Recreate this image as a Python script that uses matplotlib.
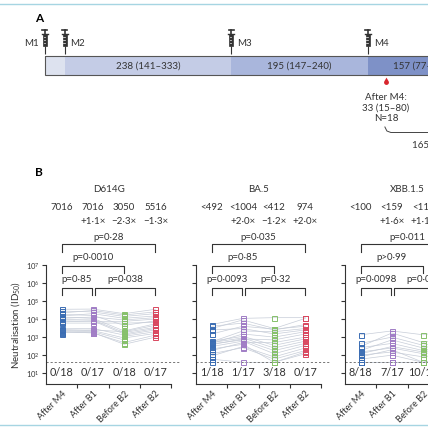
import numpy as np
import matplotlib
matplotlib.use('Agg')
import matplotlib.pyplot as plt
from matplotlib.patches import Rectangle
from matplotlib.path import Path
from matplotlib.lines import Line2D
from matplotlib.ticker import NullLocator

plt.rcParams['font.family'] = ['Lato', 'DejaVu Sans']
plt.rcParams['mathtext.fontset'] = 'custom'
plt.rcParams['mathtext.rm'] = 'Lato'
plt.rcParams['mathtext.it'] = 'Lato:italic'

# ---- panel A: vaccination timeline (days) ----
dose_names = ['M1', 'M2', 'M3', 'M4']
dose_days = [0, 28, 266, 461]
interval_days = [28, 238, 195, 157]
interval_labels = ['', '238 (141–333)', '195 (147–240)', '157 (77–237)']
bleed_day = 487
bleed_label = 'After M4:\n33 (15–80)\nN=18'
later_label = '165–228 days'

# ---- panel B: neutralisation titres (ID50), one entry per participant ----
timepoints = ['After M4', 'After B1', 'Before B2', 'After B2']
variants = ['D614G', 'BA.5', 'XBB.1.5']
lod = 40
nan = np.nan

d614g_titres = [
    [35000, 28000, 22000, 18000, 15000, 13000, 11000, 9500, 8000, 7000, 6000, 2900, 2600, 2400, 2200, 2000, 1800, 1500],
    [36000, 25000, 30000, 16000, 20000, 11000, 13000, 9000, 7500, 8000, 6000, 3000, 2300, 2500, 2000, 1700, 1800, nan],
    [20000, 14000, 17000, 4500, 11000, 2200, 9000, 1800, 7500, 1500, 6000, 1300, 900, 2000, 700, 500, 400, 1100],
    [35000, 20000, 25000, 8000, 15000, 5500, 12000, 3500, 10000, 3000, 6500, 2500, 1600, 4500, nan, 1300, 1000, 2000],
]
ba5_titres = [
    [5000, 4000, 3000, 2500, 1500, 600, 550, 500, 450, 420, 380, 300, 220, 180, 120, 90, 60, 40],
    [11000, 6000, 9000, 3000, 4000, 1100, 2200, 900, 1500, 700, 800, 600, 400, 500, 260, 300, 40, nan],
    [12000, 2500, 3000, 1500, 2800, 350, 2000, 250, 1000, 180, 700, 120, 40, 500, 60, 80, 40, 40],
    [12000, 5000, 11000, 2500, 4000, 800, 3000, 600, 2000, 450, 1500, 350, 150, 1000, 180, 250, 120, nan],
]
xbb_titres = [
    [1350, 450, 300, 260, 180, 150, 120, 100, 80, 60, 40, 40, 40, 40, 40, 40, 40, 40],
    [2200, 1000, 1700, 450, 700, 250, 300, 150, 200, 100, 40, 40, 40, 40, 40, 40, 40, nan],
    [1350, 350, 500, 180, 250, 120, 150, 80, 40, 40, 40, 40, 40, 40, 40, 40, 40, 40],
    [2500, 800, 1200, 400, 600, 200, 300, 150, 100, 80, 40, 40, 40, 60, 40, 40, 40, nan],
]

d614g_gmt = ['7016', '7016', '3050', '5516']
ba5_gmt = ['<492', '<1004', '<412', '974']
xbb_gmt = ['<100', '<159', '<110', '']
d614g_fold = ['', '+1·1×', '−2·3×', '−1·3×']
ba5_fold = ['', '+2·0×', '−1·2×', '+2·0×']
xbb_fold = ['', '+1·6×', '+1·1×', '']
d614g_below = ['0/18', '0/17', '0/18', '0/17']
ba5_below = ['1/18', '1/17', '3/18', '0/17']
xbb_below = ['8/18', '7/17', '10/18', '']

# brackets: (from, to); p-values in the same order
bracket_pairs = [(0, 0.97), (1.07, 3), (0, 2), (0, 3)]
d614g_p = ['p=0·85', 'p=0·038', 'p=0·0010', 'p=0·28']
ba5_p = ['p=0·0093', 'p=0·32', 'p=0·85', 'p=0·035']
xbb_p = ['p=0·0098', 'p=0·046', 'p>0·99', 'p=0·011']

all_titres = [d614g_titres, ba5_titres, xbb_titres]
all_gmt = [d614g_gmt, ba5_gmt, xbb_gmt]
all_fold = [d614g_fold, ba5_fold, xbb_fold]
all_below = [d614g_below, ba5_below, xbb_below]
all_p = [d614g_p, ba5_p, xbb_p]

colors = ['#3b6db3', '#a07cc5', '#86c06a', '#d9475e']
seg_colors = ['#dde2ef', '#c4cce6', '#a9b6dc', '#7e91c7']
dark = '#333333'

W, H = 428, 429
fig = plt.figure(figsize=(W / 100, H / 100), dpi=100)

# frame lines
for ypx in [4, 425]:
    fig.add_artist(Line2D([0, 1], [1 - ypx / H, 1 - ypx / H], color='#a6d5e2', lw=1.0))

fig.text(35 / W, 1 - 18 / H, 'A', fontsize=8.5, fontweight='bold', va='center')
fig.text(35 / W, 1 - 172 / H, 'B', fontsize=8.5, fontweight='bold', va='center')

# ---------- panel A ----------
scale = 0.70  # px per day
axA = fig.add_axes([0, 1 - 160 / H, 1, 140 / H])
axA.set_xlim(-45 / scale, (W - 45) / scale)
axA.set_ylim(160, 20)
axA.axis('off')

start = 0
for w, c, lab in zip(interval_days, seg_colors, interval_labels):
    axA.add_patch(Rectangle((start, 56), w, 19, facecolor=c, edgecolor='none'))
    if lab:
        axA.text(start + w / 2, 66, lab, ha='center', va='center', fontsize=7, color='#333')
    start += w
axA.add_patch(Rectangle((0, 56), sum(interval_days) + 200, 19, fill=False, edgecolor='#555', lw=0.8))

for name, d in zip(dose_names, dose_days):
    px = 1 / scale
    axA.plot([d, d], [46, 54], color=dark, lw=0.8, solid_capstyle='butt')
    axA.add_patch(Rectangle((d - 2 * px, 34), 4 * px, 12, facecolor=dark, edgecolor=dark, lw=0.5))
    for gy in [37, 40, 43]:
        axA.plot([d - 1.2 * px, d + 0.3 * px], [gy, gy], color='white', lw=0.5)
    axA.plot([d - 3 * px, d + 3 * px], [34, 34], color=dark, lw=1.0)
    axA.plot([d, d], [30, 34], color=dark, lw=1.2)
    axA.plot([d - 2.5 * px, d + 2.5 * px], [30, 30], color=dark, lw=1.2)
    if name == 'M1':
        axA.text(d - 6 * px, 43, name, ha='right', va='center', fontsize=7, color='#333')
    else:
        axA.text(d + 6 * px, 43, name, ha='left', va='center', fontsize=7, color='#333')

# blood drop marker
t = np.linspace(np.radians(-30), np.radians(210), 30)
drop_verts = np.column_stack([np.cos(t), np.sin(t)]).tolist()
drop_verts = [[x, -y] for x, y in drop_verts] + [[0, 2.0]]
drop_verts.append(drop_verts[0])
drop = Path(drop_verts)
axA.plot([bleed_day], [82], marker=drop, markersize=7, color='#d8262e', markeredgewidth=0)
axA.text(bleed_day, 108, bleed_label, ha='center', va='center', fontsize=7,
         color='#333', linespacing=1.25)
px = 1 / scale
axA.plot([bleed_day - 1 * px, bleed_day + 1 * px, bleed_day + 5 * px, bleed_day + 300 * px],
         [127, 131, 132.5, 132.5], color='#444', lw=0.7)
axA.text(bleed_day + 26 * px, 146, later_label, ha='left', va='center', fontsize=7, color='#333')

# ---------- panel B ----------
lefts = [46, 196, 345]
ax_w, top_px, bot_px = 125, 265, 384
yfrac = lambda ypx: (bot_px - ypx) / (bot_px - top_px)

for k, (variant, titres) in enumerate(zip(variants, all_titres)):
    ax = fig.add_axes([lefts[k] / W, 1 - bot_px / H, ax_w / W, (bot_px - top_px) / H])
    ax.set_yscale('log')
    ax.set_ylim(10 ** 0.4, 1e7)
    ax.set_xlim(-0.5, 3.5)
    arr = np.array(titres, dtype=float)
    # participant lines
    for j in range(arr.shape[1]):
        ax.plot(range(4), arr[:, j], color='#c7cdd8', lw=0.5, zorder=1)
    for i in range(4):
        ax.plot(np.full(arr.shape[1], i), arr[i], ls='none', marker='s', markersize=3.6,
                markerfacecolor='none', markeredgecolor=colors[i], markeredgewidth=0.7, zorder=3)
    ax.axhline(lod, xmin=0, xmax=1.06, color='#777', lw=0.7, dashes=(2.2, 2), clip_on=False, zorder=2)

    tr = ax.get_xaxis_transform()
    ax.text(1.5, yfrac(189), variant, transform=tr, ha='center', va='center', fontsize=7, color='#333')
    for i in range(4):
        ax.text(i, yfrac(207), all_gmt[k][i], transform=tr, ha='center', va='center', fontsize=7, color='#333')
        if all_fold[k][i]:
            ax.text(i, yfrac(222), all_fold[k][i], transform=tr, ha='center', va='center',
                    fontsize=7, color='#333')
        if all_below[k][i]:
            ax.text(i, yfrac(373), all_below[k][i], transform=tr, ha='center', va='center',
                    fontsize=7.8, color='#333')

    levels = [(280, 288, 295), (280, 288, 295), (258, 266, 273), (237, 244, 252)]
    for (x0, x1), ptxt, (ty, ly, lg) in zip(bracket_pairs, all_p[k], levels):
        ax.plot([x0, x0, x1, x1], [yfrac(lg), yfrac(ly), yfrac(ly), yfrac(lg)], transform=tr,
                color='#333', lw=0.8, clip_on=False)
        ax.text((x0 + x1) / 2, yfrac(ty), ptxt, transform=tr, ha='center', va='center',
                fontsize=7, color='#333')

    for s in ['top', 'right']:
        ax.spines[s].set_visible(False)
    for s in ['left', 'bottom']:
        ax.spines[s].set_color('#333')
        ax.spines[s].set_linewidth(0.8)
    ax.set_yticks([10 ** e for e in range(1, 8)])
    ax.yaxis.set_minor_locator(NullLocator())
    if k == 0:
        ax.set_yticklabels(['10$^{%d}$' % e for e in range(1, 8)], fontsize=5.5, color='#333')
        ax.set_ylabel('Neutralisation (ID$_{50}$)', fontsize=7, color='#333', labelpad=3)
    else:
        ax.set_yticklabels([])
    ax.tick_params(axis='y', length=3, width=0.8, color='#333', pad=1.5)
    ax.set_xticks(range(4))
    ax.set_xticklabels(timepoints, rotation=45, ha='right', rotation_mode='anchor',
                       fontsize=6.5, color='#333')
    ax.set_xticks([0.5, 1.5, 2.5, 3.5], minor=True)
    ax.tick_params(axis='x', which='major', length=0, pad=4)
    ax.tick_params(axis='x', which='minor', length=3, width=0.8, color='#333')

fig.savefig('out.png', dpi=100)
